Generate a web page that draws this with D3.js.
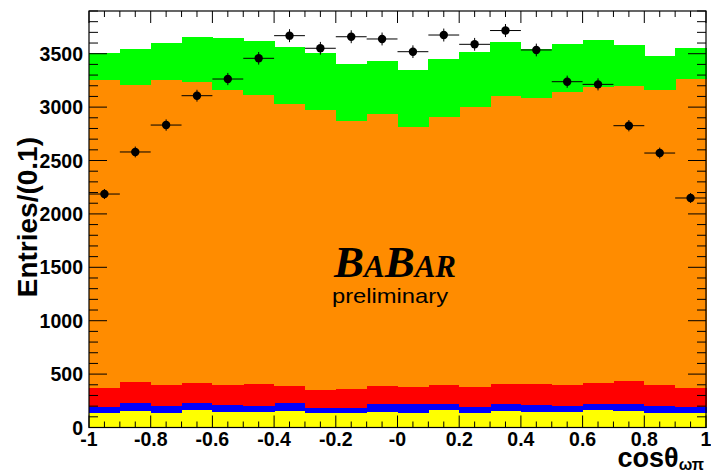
<!DOCTYPE html>
<html>
<head>
<meta charset="utf-8">
<script src="https://cdn.jsdelivr.net/npm/d3@7"></script>
<style>
  body { margin: 0; background: #fff; }
</style>
</head>
<body>
<div id="chart"></div>
<script>
// bins in cos(theta_omega_pi), 20 bins of 0.1
const binLow = d3.range(20).map(i => -1 + i * 0.1)

// stacked MC components (entries per bin), bottom to top
const cyanComp    = [3,3,3,3,3,3,3,3,3,3,3,3,3,3,3,3,3,3,3,3]
const magentaComp = [3,3,3,3,3,3,3,3,3,3,3,3,3,3,3,3,3,3,3,3]
const yellowComp  = [130,151,130,161,142,139,148,130,130,139,133,158,133,145,142,142,158,148,133,127]
const blueComp    = [53,69,68,62,66,59,72,50,50,78,84,53,50,66,60,56,59,69,65,56]
const redComp     = [181,200,191,188,187,203,163,165,174,166,153,181,193,187,199,194,194,212,194,184]
const orangeComp  = [2884,2784,2856,2815,2759,2706,2640,2625,2510,2546,2438,2509,2622,2700,2678,2743,2768,2762,2762,2893]
const greenComp   = [249,334,349,427,487,509,537,534,531,497,536,540,515,506,456,450,443,384,321,285]

// data points
const dataCounts = [2186,2580,2832,3107,3263,3457,3669,3551,3659,3638,3519,3675,3588,3717,3535,3238,3213,2826,2570,2149]

const yTicks = [0, 500, 1000, 1500, 2000, 2500, 3000, 3500]
const xTicks = [-1, -0.8, -0.6, -0.4, -0.2, 0, 0.2, 0.4, 0.6, 0.8, 1]
const xTickLabels = ['-1', '-0.8', '-0.6', '-0.4', '-0.2', '-0', '0.2', '0.4', '0.6', '0.8', '1']

const keys = ['cyan', 'magenta', 'yellow', 'blue', 'red', 'orange', 'green']
const colors = {
  cyan: '#00c8c8', magenta: '#ff00ff', yellow: '#ffff00', blue: '#0000ff',
  red: '#ff0000', orange: '#ff8c00', green: '#00ff00'
}

const table = binLow.map((lo, i) => ({
  lo: lo, hi: lo + 0.1,
  cyan: cyanComp[i], magenta: magentaComp[i], yellow: yellowComp[i],
  blue: blueComp[i], red: redComp[i], orange: orangeComp[i], green: greenComp[i]
}))

const width = 711, height = 474
const margin = {top: 11, right: 5, bottom: 46.5, left: 89}
const sans = '"Liberation Sans", Arial, Helvetica, sans-serif'
const serif = '"Liberation Serif", "Times New Roman", serif'

const svg = d3.select('#chart').append('svg')
  .attr('width', width)
  .attr('height', height)
  .style('font-family', sans)

const x = d3.scaleLinear().domain([-1, 1]).range([margin.left, width - margin.right])
const y = d3.scaleLinear().domain([0, 3900]).range([height - margin.bottom, margin.top])

const series = d3.stack().keys(keys)(table)

const layers = svg.append('g').attr('shape-rendering', 'crispEdges')

layers.selectAll('g')
  .data(series)
  .enter()
  .append('g')
  .attr('fill', d => colors[d.key])
  .selectAll('rect')
  .data(d => d)
  .enter()
  .append('rect')
  .attr('x', d => x(d.data.lo))
  .attr('width', d => x(d.data.hi) - x(d.data.lo) + 0.5)
  .attr('y', d => y(d[1]))
  .attr('height', d => y(d[0]) - y(d[1]))

// frame
const x0 = x(-1), x1 = x(1), yb = y(0), yt = y(3900)

const axes = svg.append('g').attr('stroke', '#000').attr('stroke-width', 1)

// y ticks, left and right, every 100 with majors every 500
d3.range(0, 3901, 100).forEach(v => {
  const len = v % 500 === 0 ? 18 : 9
  axes.append('line').attr('x1', x0).attr('x2', x0 + len).attr('y1', y(v)).attr('y2', y(v))
  axes.append('line').attr('x1', x1).attr('x2', x1 - len).attr('y1', y(v)).attr('y2', y(v))
})

// x ticks, bottom and top, every 0.05 with majors every 0.2
d3.range(0, 41).forEach(k => {
  const v = -1 + k * 0.05
  const len = k % 4 === 0 ? 12 : 6
  axes.append('line').attr('x1', x(v)).attr('x2', x(v)).attr('y1', yb).attr('y2', yb - len)
  axes.append('line').attr('x1', x(v)).attr('x2', x(v)).attr('y1', yt).attr('y2', yt + len)
})

svg.append('rect')
  .attr('x', x0).attr('y', yt)
  .attr('width', x1 - x0).attr('height', yb - yt)
  .attr('fill', 'none').attr('stroke', '#000').attr('stroke-width', 1.2)

// tick labels
svg.append('g').selectAll('text')
  .data(yTicks)
  .enter()
  .append('text')
  .attr('x', 83)
  .attr('y', d => y(d) + 7)
  .attr('text-anchor', 'end')
  .attr('font-size', 19.5)
  .attr('font-weight', 'bold')
  .text(d => d)

svg.append('g').selectAll('text')
  .data(xTicks)
  .enter()
  .append('text')
  .attr('x', d => x(d))
  .attr('y', 446)
  .attr('text-anchor', 'middle')
  .attr('font-size', 19.5)
  .attr('font-weight', 'bold')
  .text((d, i) => xTickLabels[i])

// axis titles
const xt = svg.append('text')
  .attr('x', 704)
  .attr('y', 467)
  .attr('text-anchor', 'end')
  .attr('font-weight', 'bold')
  .attr('font-size', 27)
xt.append('tspan').text('cos\u03b8')
xt.append('tspan').attr('font-size', 16).attr('dy', 3).text('\u03c9\u03c0')

svg.append('text')
  .attr('transform', 'translate(37,137) rotate(-90)')
  .attr('text-anchor', 'end')
  .attr('font-weight', 'bold')
  .attr('font-size', 28)
  .text('Entries/(0.1)')

// BaBar logo
const logo = svg.append('text')
  .attr('x', 395)
  .attr('y', 277)
  .attr('text-anchor', 'middle')
  .style('font-family', serif)
  .style('font-style', 'italic')
  .style('font-weight', 'bold')
  .attr('font-size', 45)
logo.append('tspan').text('B')
logo.append('tspan').attr('font-size', 31).text('A')
logo.append('tspan').text('B')
logo.append('tspan').attr('font-size', 31).text('AR')

svg.append('text')
  .attr('x', 332)
  .attr('y', 303)
  .attr('font-size', 21)
  .attr('textLength', 116)
  .attr('lengthAdjust', 'spacingAndGlyphs')
  .text('preliminary')

// data points with errors
const pts = svg.append('g')
dataCounts.forEach((v, i) => {
  const cx = x(binLow[i] + 0.05)
  const err = Math.sqrt(v)
  pts.append('line')
    .attr('x1', x(binLow[i])).attr('x2', x(binLow[i] + 0.1))
    .attr('y1', y(v)).attr('y2', y(v))
    .attr('stroke', '#000').attr('stroke-width', 1)
  pts.append('line')
    .attr('x1', cx).attr('x2', cx)
    .attr('y1', y(v - err)).attr('y2', y(v + err))
    .attr('stroke', '#000').attr('stroke-width', 1)
  pts.append('circle')
    .attr('cx', cx).attr('cy', y(v)).attr('r', 4.2)
    .attr('fill', '#000')
})
</script>
</body>
</html>
